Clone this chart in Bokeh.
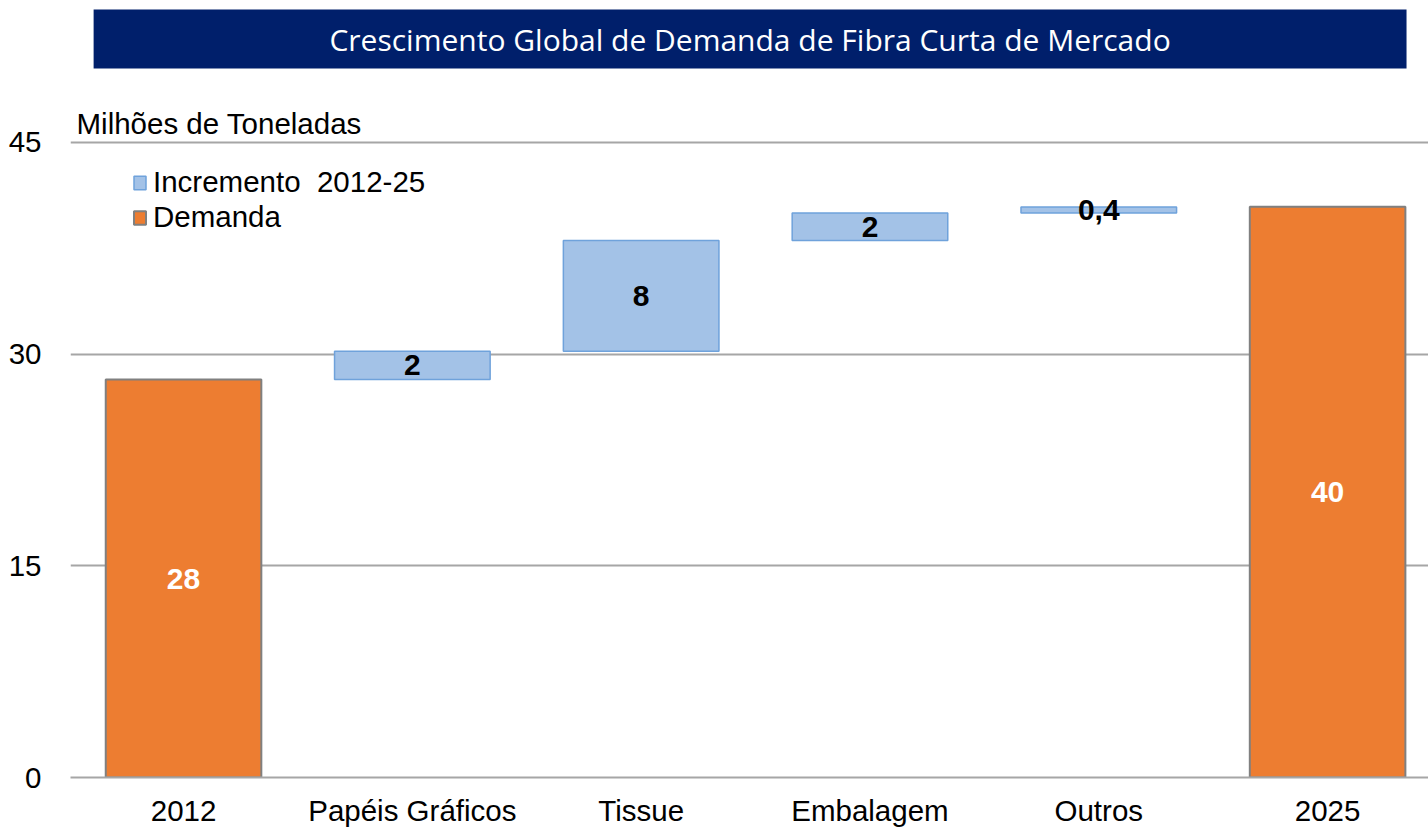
import numpy as np
from bokeh.plotting import figure
from bokeh.models import (Range1d, FixedTicker, BoxAnnotation, Label, Legend,
                          LegendItem, ColumnDataSource)
from bokeh.core.properties import value
from bokeh.embed import file_html
from bokeh.resources import INLINE

# ---------------- data ----------------
categories = ["2012", "Papéis Gráficos", "Tissue", "Embalagem", "Outros", "2025"]
demand_2012 = 28.2
increments = [2.0, 7.85, 1.95, 0.42]
demand_2025 = 40.45
value_labels = ["28", "2", "8", "2", "0,4", "40"]
y_ticks = [0, 15, 30, 45]
title_text = "Crescimento Global de Demanda de Fibra Curta de Mercado"
y_title = "Milhões de Toneladas"
legend_labels = ["Incremento  2012-25", "Demanda"]

# ---------------- derived ----------------
xs = list(range(len(categories)))
inc_x = xs[1:-1]
inc_bottom = demand_2012 + np.concatenate([[0.0], np.cumsum(increments)[:-1]])
inc_top = inc_bottom + np.array(increments)

dem_src = ColumnDataSource(dict(x=[xs[0], xs[-1]], bottom=[0, 0],
                                top=[demand_2012, demand_2025]))
inc_src = ColumnDataSource(dict(x=inc_x, bottom=list(inc_bottom), top=list(inc_top)))

all_bottom = [0] + list(inc_bottom) + [0]
all_top = [demand_2012] + list(inc_top) + [demand_2025]
lab_src = ColumnDataSource(dict(
    x=xs,
    y=[(b + t) / 2 for b, t in zip(all_bottom, all_top)],
    text=value_labels,
    color=["white"] + ["black"] * len(increments) + ["white"],
))

FONT = "Liberation Sans"
FS = "29.5px"
ORANGE = "#ED7D31"
BLUE = "#A3C2E7"
BLUE_LINE = "#6FA2DB"
GRID = "#A6A6A6"

p = figure(width=1428, height=829,
           x_range=Range1d(-0.494, 5.441), y_range=Range1d(0, 55.06),
           output_backend="svg", toolbar_location=None,
           min_border_left=70, min_border_right=0, min_border_top=0,
           min_border_bottom=52)
p.outline_line_color = None
p.background_fill_color = "white"

dem_r = p.vbar(x="x", bottom="bottom", top="top", width=0.68, source=dem_src,
               fill_color=ORANGE, line_color="#808080", line_width=2)
inc_r = p.vbar(x="x", bottom="bottom", top="top", width=0.68, source=inc_src,
               fill_color=BLUE, line_color=BLUE_LINE, line_width=1.5)

p.text(x="x", y="y", text="text", source=lab_src, text_color="color",
       text_align="center", text_baseline="middle", text_font_size="30px",
       text_font_style="bold", text_font=value(FONT))

# axes
p.xgrid.visible = False
p.ygrid.ticker = FixedTicker(ticks=y_ticks[1:])
p.ygrid.grid_line_color = GRID
p.ygrid.grid_line_width = 2

p.yaxis.ticker = FixedTicker(ticks=y_ticks)
p.yaxis.axis_line_color = None
p.yaxis.major_tick_line_color = None
p.yaxis.minor_tick_line_color = None
p.yaxis.major_label_standoff = 23
p.yaxis.major_label_text_font_size = FS
p.yaxis.major_label_text_font = FONT
p.yaxis.major_label_text_color = "black"

p.xaxis.ticker = FixedTicker(ticks=xs)
p.xaxis.major_label_overrides = {i: c for i, c in enumerate(categories)}
p.xaxis.axis_line_color = GRID
p.xaxis.axis_line_width = 2
p.xaxis.major_tick_line_color = None
p.xaxis.minor_tick_line_color = None
p.xaxis.major_label_standoff = 10
p.xaxis.major_label_text_font_size = FS
p.xaxis.major_label_text_font = FONT
p.xaxis.major_label_text_color = "black"

# title banner
banner = BoxAnnotation(left=-0.393, right=5.345, bottom=50.24, top=54.42,
                       fill_color="#001F6B", fill_alpha=1.0, line_color=None)
p.add_layout(banner)
p.add_layout(Label(x=2.476, y=52.33, text=title_text, text_align="center",
                   text_baseline="middle", text_color="white",
                   text_font_size="30px", text_font="Open Sans"))

# y axis title above the axis
p.add_layout(Label(x=-0.494, y=45, x_offset=6, y_offset=2, text=y_title,
                   text_align="left", text_baseline="bottom",
                   text_color="black", text_font_size=FS,
                   text_font=FONT))

legend = Legend(items=[LegendItem(label=legend_labels[0], renderers=[inc_r]),
                       LegendItem(label=legend_labels[1], renderers=[dem_r])],
                location=(62, 543), padding=0, margin=0, spacing=1,
                glyph_width=15, glyph_height=17, label_height=30,
                label_standoff=6, label_text_font_size=FS,
                label_text_font=FONT, label_text_color="black",
                background_fill_alpha=0, border_line_color=None)
p.add_layout(legend)

open("out.html", "w").write(file_html(p, INLINE))
